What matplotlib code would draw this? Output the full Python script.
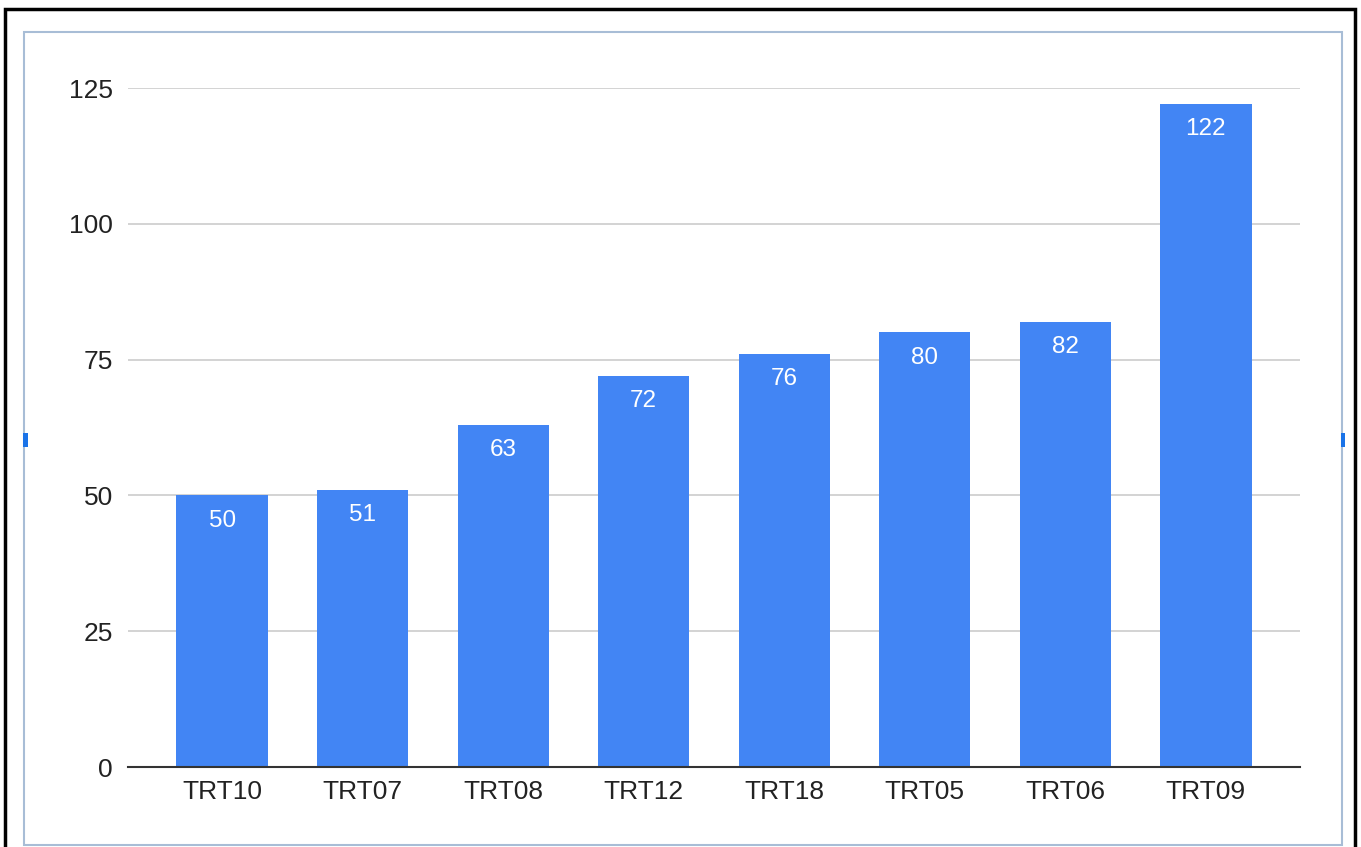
import matplotlib
matplotlib.use("Agg")
import matplotlib.pyplot as plt
from matplotlib.patches import Rectangle

categories = ["TRT10", "TRT07", "TRT08", "TRT12", "TRT18", "TRT05", "TRT06", "TRT09"]
values = [50, 51, 63, 72, 76, 80, 82, 122]
yticks = [0, 25, 50, 75, 100, 125]

W, H = 1361, 847
fig = plt.figure(figsize=(W / 100, H / 100), dpi=100)
plt.rcParams['font.family'] = ['Liberation Sans', 'DejaVu Sans']

# outer black border and inner selection frame
fig.patches.append(Rectangle((5 / W, -0.01), (1355 - 5) / W, (H - 9) / H + 0.01,
                             transform=fig.transFigure, fill=False, edgecolor='black',
                             linewidth=2.5, zorder=10))
fig.patches.append(Rectangle((24 / W, (H - 845) / H), (1342 - 24) / W, (845 - 32) / H,
                             transform=fig.transFigure, fill=False, edgecolor='#a8bdd6',
                             linewidth=1.5, zorder=10))
# selection handles
for (x0, y0, w, h) in [(23, 433, 5, 14), (1341, 433, 4, 14)]:
    fig.patches.append(Rectangle((x0 / W, (H - y0 - h) / H), w / W, h / H,
                                 transform=fig.transFigure, facecolor='#1a73e8',
                                 edgecolor='none', zorder=11))

ax = fig.add_axes([128 / W, (H - 767) / H, (1300 - 128) / W, (767 - 88) / H])
x = list(range(len(categories)))
bars = ax.bar(x, values, width=0.65, color='#4285F4', zorder=3)
for xi, v in zip(x, values):
    ax.text(xi, v - 2.6, str(v), ha='center', va='top', color='white',
            fontsize=17.5, zorder=4)

ax.set_xlim(-0.67, len(categories) - 1 + 0.67)
ax.set_ylim(0, 125)
ax.set_yticks(yticks)
ax.set_xticks(x)
ax.set_xticklabels(categories)
ax.tick_params(axis='both', length=0, labelsize=19, labelcolor='#222222')
ax.tick_params(axis='y', pad=11)
ax.tick_params(axis='x', pad=9)
ax.grid(axis='y', color='#cccccc', linewidth=1.2, zorder=0)
for s in ['top', 'right', 'left']:
    ax.spines[s].set_visible(False)
ax.spines['bottom'].set_color('#333333')
ax.spines['bottom'].set_linewidth(1.5)
ax.spines['bottom'].set_zorder(5)

fig.savefig("out.png", dpi=100)
